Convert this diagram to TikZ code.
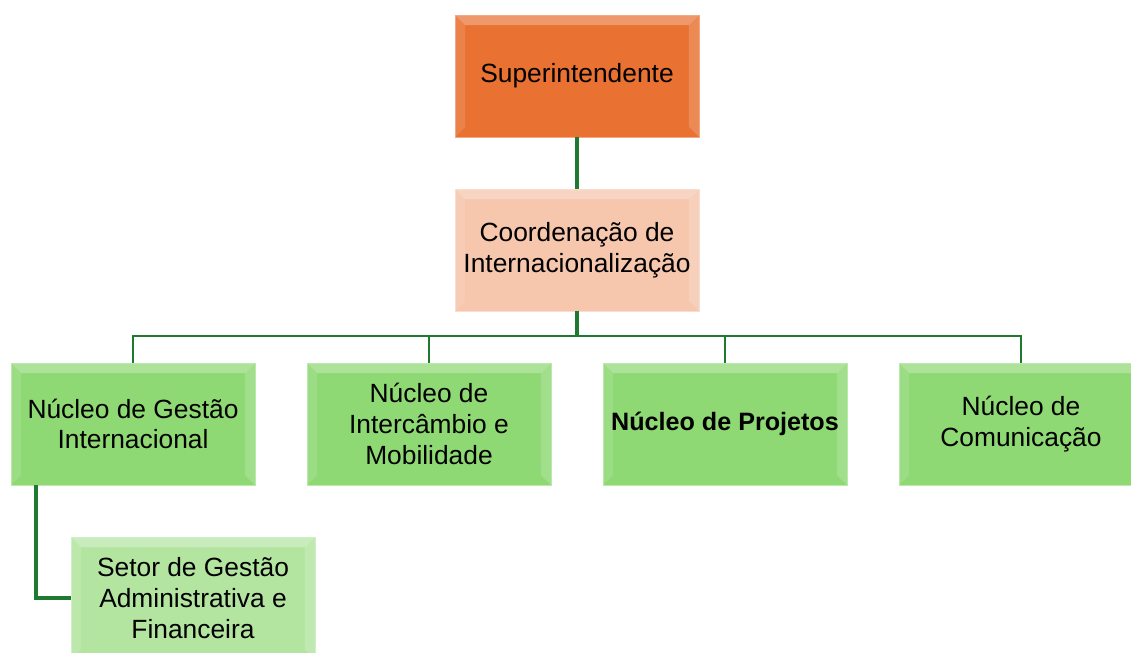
\documentclass[tikz,border=0pt]{standalone}
\usepackage{fontspec}
\setmainfont{Liberation Sans}
\usepackage{xcolor}

\definecolor{superorange}{HTML}{E97132}
\definecolor{coordpeach}{HTML}{F6C6AD}
\definecolor{nucleogreen}{HTML}{8ED973}
\definecolor{setorgreen}{HTML}{B3E5A1}
\definecolor{linegreen}{HTML}{1F7A31}

\tikzset{
    orgbox/.style={draw=#1!60!white, line width=0.4pt, fill=#1,
        minimum width=4.88cm, minimum height=2.44cm,
        inner xsep=1pt, align=center,
        font=\fontsize{15pt}{17.5pt}\selectfont,
        path picture={
            % bevel: light top and left edges, soft right edge
            \fill[white, opacity=0.28] (path picture bounding box.north west)
                -- (path picture bounding box.north east)
                -- ++(-0.2cm,-0.2cm) -- ($(path picture bounding box.north west)+(0.2cm,-0.2cm)$) -- cycle;
            \fill[white, opacity=0.12] (path picture bounding box.north west)
                -- ($(path picture bounding box.north west)+(0.2cm,-0.2cm)$)
                -- ($(path picture bounding box.south west)+(0.2cm,0.2cm)$)
                -- (path picture bounding box.south west) -- cycle;
            \fill[white, opacity=0.18] (path picture bounding box.north east)
                -- ($(path picture bounding box.north east)+(-0.2cm,-0.2cm)$)
                -- ($(path picture bounding box.south east)+(-0.2cm,0.2cm)$)
                -- (path picture bounding box.south east) -- cycle;
        }},
    link/.style={draw=linegreen, line width=2.2pt},
    thinlink/.style={draw=linegreen, line width=1.2pt}
}
\usetikzlibrary{calc}

\begin{document}
\begin{tikzpicture}[x=0.02cm, y=-0.02cm]
    % page frame
    \useasboundingbox (0,0) rectangle (1131,652);

    % top of the chart
    \node[orgbox=superorange] (super) at (577,76) {Superintendente};
    \node[orgbox=coordpeach] (coord) at (577,250) {Coordenação de\\Internacionalização};

    % the four nuclei
    \node[orgbox=nucleogreen] (gestao) at (133,424) {Núcleo de Gestão\\Internacional};
    \node[orgbox=nucleogreen] (intercambio) at (429,424) {Núcleo de\\Intercâmbio e\\Mobilidade};
    \node[orgbox=nucleogreen, font=\fontsize{14.3pt}{17pt}\bfseries] (projetos) at (725,424) {Núcleo de Projetos};
    \node[orgbox=nucleogreen] (comunicacao) at (1021,424) {Núcleo de\\Comunicação};

    % sector under the first nucleus
    \node[orgbox=setorgreen] (setor) at (193,598) {Setor de Gestão\\Administrativa e\\Financeira};

    % connectors
    \coordinate (bus) at (577,336);
    \draw[link] (super.south) -- (coord.north);
    \draw[link] (coord.south) -- (bus);
    \foreach \n in {gestao, intercambio, projetos, comunicacao}
        \draw[thinlink] (bus) -| (\n.north);
    \draw[link] (gestao.south west) ++(0.5cm,0) |- (setor.west);
\end{tikzpicture}
\end{document}
